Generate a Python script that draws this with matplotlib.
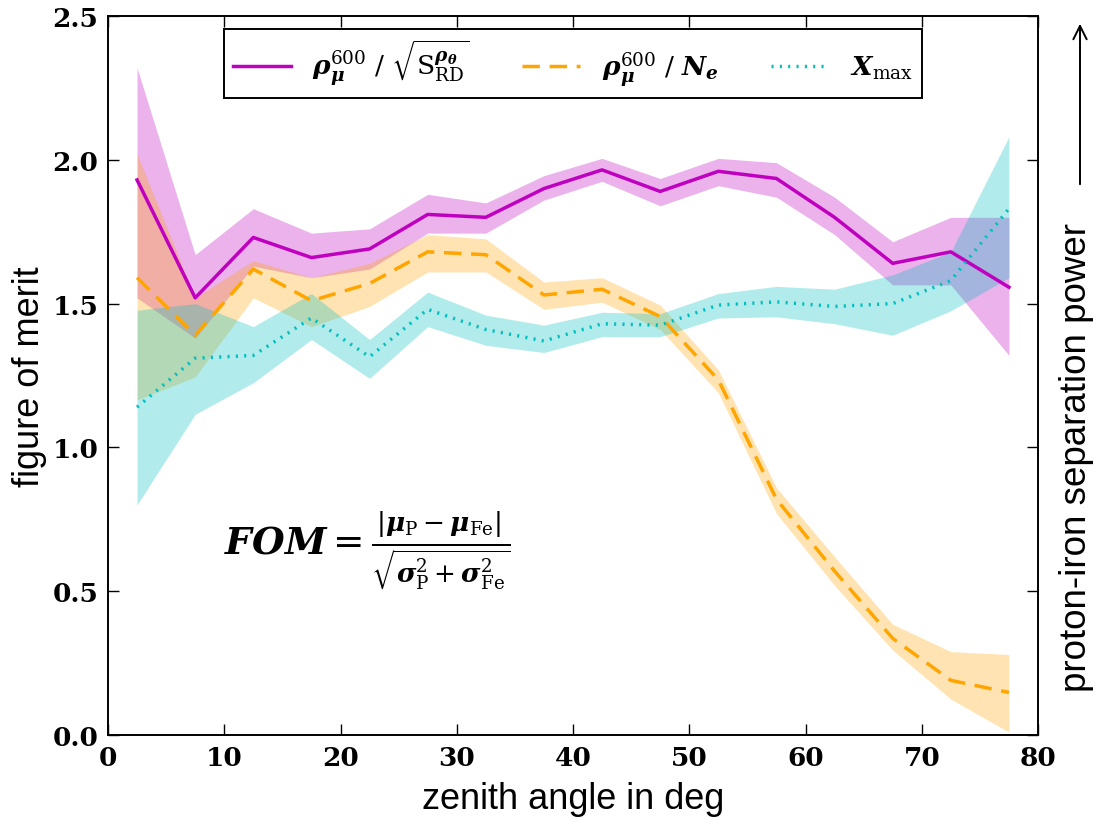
import matplotlib
matplotlib.use("Agg")
import matplotlib.pyplot as plt
from matplotlib.patches import FancyArrowPatch
from matplotlib.ticker import MultipleLocator

# ================================
# Data
# ================================
zenith = [2.5, 7.5, 12.5, 17.5, 22.5, 27.5, 32.5, 37.5,
          42.5, 47.5, 52.5, 57.5, 62.5, 67.5, 72.5, 77.5]

# rho_mu^600 / sqrt(S_RD)
rho_s = [1.93, 1.52, 1.73, 1.66, 1.69, 1.81, 1.80, 1.90,
         1.965, 1.89, 1.96, 1.935, 1.80, 1.64, 1.68, 1.557]
rho_s_hi = [2.32, 1.67, 1.83, 1.745, 1.76, 1.88, 1.85, 1.945,
            2.005, 1.935, 2.005, 1.99, 1.87, 1.715, 1.80, 1.80]
rho_s_lo = [1.52, 1.38, 1.63, 1.59, 1.62, 1.745, 1.745, 1.86,
            1.925, 1.84, 1.91, 1.87, 1.74, 1.565, 1.565, 1.32]

# rho_mu^600 / N_e
rho_ne = [1.59, 1.39, 1.62, 1.51, 1.57, 1.68, 1.67, 1.53,
          1.55, 1.455, 1.235, 0.82, 0.57, 0.336, 0.19, 0.148]
rho_ne_hi = [2.02, 1.52, 1.65, 1.59, 1.64, 1.74, 1.725, 1.575,
             1.59, 1.495, 1.27, 0.86, 0.62, 0.385, 0.29, 0.28]
rho_ne_lo = [1.165, 1.245, 1.52, 1.42, 1.49, 1.61, 1.61, 1.48,
             1.505, 1.41, 1.19, 0.77, 0.52, 0.295, 0.125, 0.01]

# X_max
xmax = [1.14, 1.31, 1.32, 1.45, 1.315, 1.48, 1.41, 1.37,
        1.43, 1.425, 1.495, 1.506, 1.49, 1.50, 1.58, 1.83]
xmax_hi = [1.477, 1.50, 1.42, 1.535, 1.375, 1.54, 1.46, 1.425,
           1.47, 1.465, 1.535, 1.56, 1.55, 1.60, 1.68, 2.08]
xmax_lo = [0.80, 1.115, 1.225, 1.375, 1.24, 1.42, 1.355, 1.33,
           1.385, 1.385, 1.45, 1.454, 1.43, 1.39, 1.475, 1.59]

x_ticks = [0, 10, 20, 30, 40, 50, 60, 70, 80]
y_ticks = [0.0, 0.5, 1.0, 1.5, 2.0, 2.5]

labels = [r"$\mathbfit{\rho}_\mathbfit{\mu}^{600}\ /\ \sqrt{\mathrm{S}_{\mathrm{RD}}^{\mathbfit{\rho}_\mathbfit{\theta}}}$",
          r"$\mathbfit{\rho}_\mathbfit{\mu}^{600}\ /\ \mathbfit{N}_\mathbfit{e}$",
          r"$\mathbfit{X}_{\mathrm{max}}$"]

FOM_TEXT = (r"$\mathbfit{FOM} = \frac{|\mathbfit{\mu}_{\rm P}-\mathbfit{\mu}_{\rm Fe}|}"
            r"{\sqrt{\mathbfit{\sigma}_{\rm P}^2+\mathbfit{\sigma}_{\rm Fe}^2}}$")

# ================================
# Style
# ================================
plt.rcParams["mathtext.fontset"] = "dejavuserif"
plt.rcParams["font.family"] = ["Liberation Sans", "DejaVu Sans"]
plt.rcParams["xtick.direction"] = "in"
plt.rcParams["ytick.direction"] = "in"
plt.rcParams["xtick.top"] = True
plt.rcParams["ytick.right"] = True

fig = plt.figure(figsize=(10.98, 8.28), dpi=100)
ax = fig.add_axes([108 / 1098, 1 - 736 / 828, 930 / 1098, 719 / 828])

ax.fill_between(zenith, rho_s_lo, rho_s_hi, color="m", alpha=0.3, lw=0)
ax.fill_between(zenith, rho_ne_lo, rho_ne_hi, color="orange", alpha=0.3, lw=0)
ax.fill_between(zenith, xmax_lo, xmax_hi, color="c", alpha=0.3, lw=0)

ax.plot(zenith, rho_s, color="m", lw=2.5, ls="-", label=labels[0])
ax.plot(zenith, rho_ne, color="orange", lw=2.5, ls=(0, (5, 2.8)), label=labels[1])
ax.plot(zenith, xmax, color="c", lw=2.5, ls=(0, (0.6, 1.8)), label=labels[2])

ax.set_xticks(x_ticks)
ax.set_yticks(y_ticks)
ax.set_xticklabels(["%d" % v for v in x_ticks])
ax.set_yticklabels(["%.1f" % v for v in y_ticks])
ax.set_xlim(0, 80)
ax.set_ylim(0, 2.5)
for lab in ax.get_xticklabels() + ax.get_yticklabels():
    lab.set_fontfamily("DejaVu Serif")
    lab.set_fontweight("bold")
    lab.set_fontsize(19)
ax.tick_params(axis="both", which="major", length=8, width=1, pad=7)
for s in ax.spines.values():
    s.set_linewidth(1.4)

ax.set_xlabel("zenith angle in deg", fontsize=26, labelpad=8)
ax.set_ylabel("figure of merit", fontsize=26, labelpad=4)

leg = ax.legend(loc="upper center", bbox_to_anchor=(0.5, 0.982), ncol=3,
                fontsize=19, fancybox=False, framealpha=1, edgecolor="black",
                handlelength=2.2, columnspacing=2.0, borderpad=0.35,
                borderaxespad=0)
leg.get_frame().set_linewidth(1.4)

ax.text(10, 0.645, FOM_TEXT, fontsize=27, va="center", ha="left")

# right-hand annotation with arrow
fig.text(1077 / 1098, 1 - 457 / 828, "proton-iron separation power",
         rotation=90, fontsize=26.5, ha="center", va="center")
fig.add_artist(FancyArrowPatch(
    (1080 / 1098, 1 - 188 / 828), (1080 / 1098, 1 - 22 / 828),
    transform=fig.transFigure, arrowstyle="->", mutation_scale=24,
    lw=1.4, color="black"))

plt.savefig("out.png", dpi=100)
plt.close()
